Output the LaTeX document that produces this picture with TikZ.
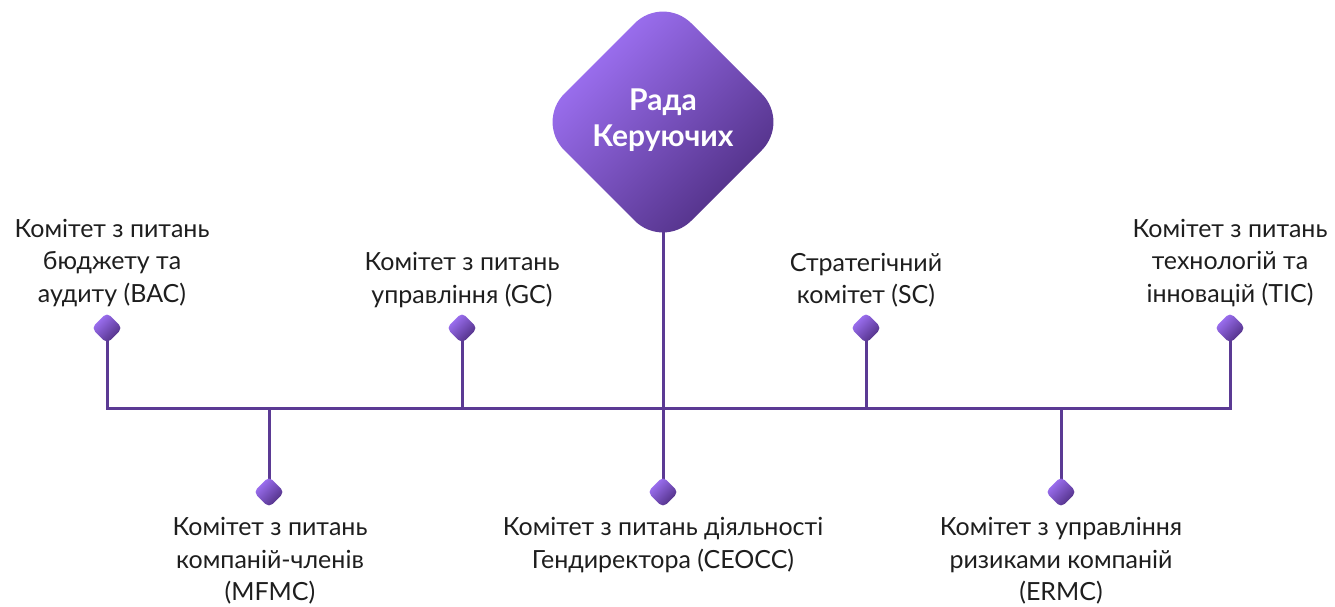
\documentclass[tikz,border=0pt]{standalone}
\usepackage{fontspec}
\setmainfont{Lato}
\usetikzlibrary{positioning}
\definecolor{linec}{HTML}{5B3A94}
\definecolor{lightp}{HTML}{A678FF}
\definecolor{darkp}{HTML}{4A2A7C}
\definecolor{txt}{HTML}{1E1E1E}
\tikzset{
  bus/.style={draw=linec, line width=3pt},
  lbl/.style={text=txt, align=center, inner sep=0pt, font=\fontsize{25}{32.5}\selectfont},
  title/.style={text=white, align=center, inner sep=0pt, font=\fontsize{30}{36}\selectfont\bfseries},
}
\newcommand{\smalldia}[3]{%
  \shade[top color=lightp, bottom color=darkp, shading angle=45, rounded corners=5pt]
    (#2,#3-15.5) -- (#2+15.5,#3) -- (#2,#3+15.5) -- (#2-15.5,#3) -- cycle;
  \coordinate (#1) at (#2,#3);
}
\begin{document}
\begin{tikzpicture}[x=1pt,y=-1pt]
\useasboundingbox (0,0) rectangle (1335,606);
% bus
\coordinate (busL) at (107,408);
\coordinate (busR) at (1230,408);
\draw[bus, line cap=rect] (busL) -- (busR);
% top branches
\foreach \n/\x in {a/107,b/462,c/866,d/1230}{
  \coordinate (top\n) at (\x,328);
  \coordinate (bt\n) at (\x,408);
  \draw[bus] (top\n) -- (bt\n);
}
% bottom branches
\foreach \n/\x in {e/269,g/1061}{
  \coordinate (bot\n) at (\x,492);
  \coordinate (bb\n) at (\x,408);
  \draw[bus] (bb\n) -- (bot\n);
}
\coordinate (mainbot) at (663,200);
\coordinate (botf) at (663,492);
\draw[bus] (mainbot) -- (botf);
% main diamond
\shade[top color=lightp, bottom color=darkp, shading angle=45, rounded corners=40pt]
  (663,-5) -- (790,122) -- (663,249) -- (536,122) -- cycle;
\node[title] (rada) at (663,120) {Рада\\Керуючих};
% small diamonds
\smalldia{da}{107}{328}
\smalldia{db}{462}{328}
\smalldia{dc}{866}{328}
\smalldia{dd}{1230}{328}
\smalldia{de}{269}{492}
\smalldia{df}{663}{492}
\smalldia{dg}{1061}{492}
% labels
\node[lbl] (la) at (112,263) {Комітет з питань\\бюджету та\\аудиту (BAC)};
\node[lbl] (lb) at (462,280) {Комітет з питань\\управління (GC)};
\node[lbl] (lc) at (866,280) {Стратегічний\\комітет (SC)};
\node[lbl] (ld) at (1230,263) {Комітет з питань\\технологій та\\інновацій (TIC)};
\node[lbl] (le) at (270,561) {Комітет з питань\\компаній-членів\\(MFMC)};
\node[lbl] (lf) at (663,545) {Комітет з питань діяльності\\Гендиректора (CEOCC)};
\node[lbl] (lg) at (1061,561) {Комітет з управління\\ризиками компаній\\(ERMC)};
\end{tikzpicture}
\end{document}
